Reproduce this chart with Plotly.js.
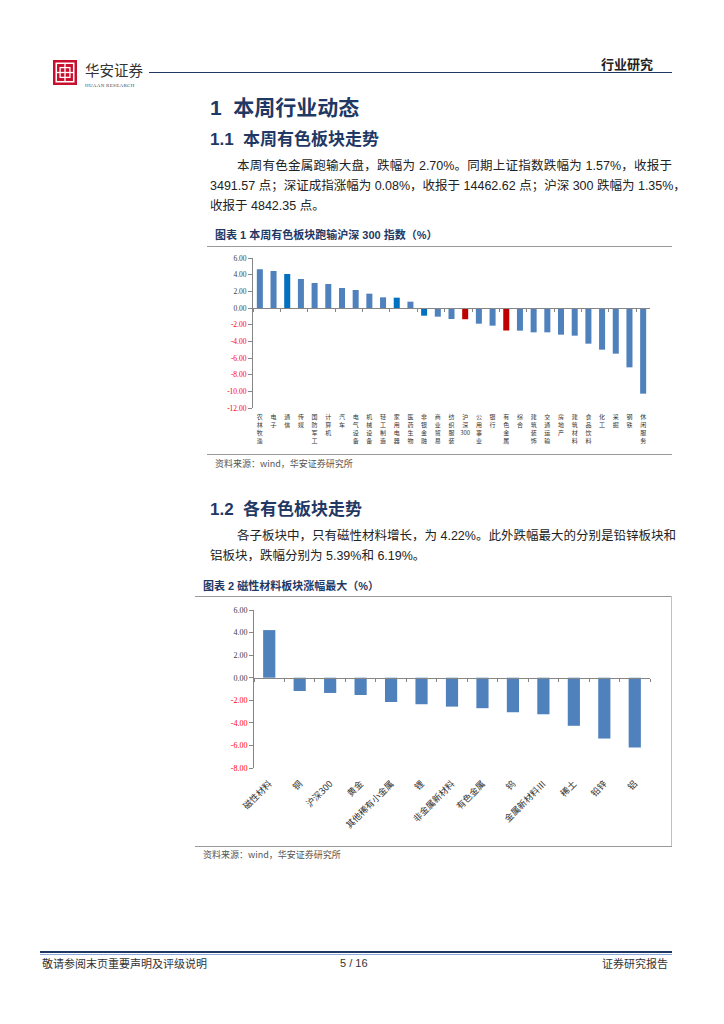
<!DOCTYPE html>
<html><head><meta charset="utf-8">
<script src="https://cdn.plot.ly/plotly-3.0.1.min.js"></script>
<style>
html,body{margin:0;padding:0;background:#fff;}
#page{position:relative;width:724px;height:1024px;overflow:hidden;background:#fff;font-family:"Liberation Sans","Noto Sans CJK SC",sans-serif;}
.a{position:absolute;white-space:nowrap;line-height:1;}
.h{color:#1F3864;font-weight:bold;}
.p{font-size:12.5px;color:#222;text-align:justify;text-align-last:justify;}
.pl{font-size:12.5px;color:#222;}
.rule{position:absolute;height:1px;background:#9a9a9a;}
.src{font-size:9px;color:#555;font-family:"Noto Sans CJK SC","Liberation Serif",serif;}
</style></head><body><div id="page">

<!-- header -->
<svg class="a" style="left:53px;top:60px" width="24" height="25" viewBox="0 0 22 23" preserveAspectRatio="none">
 <rect x="0" y="0" width="22" height="23" fill="#C8102E"/>
 <rect x="3" y="3" width="16" height="17" fill="none" stroke="#fff" stroke-width="1.4"/>
 <rect x="6.5" y="7" width="9" height="9" fill="none" stroke="#fff" stroke-width="1.2"/>
 <line x1="11" y1="3" x2="11" y2="20" stroke="#fff" stroke-width="1.2"/>
 <line x1="3" y1="11.5" x2="19" y2="11.5" stroke="#fff" stroke-width="1.2"/>
</svg>
<div class="a" style="left:85px;top:63px;font-size:14.5px;color:#333;font-family:'Noto Sans CJK SC';">华安证券</div>
<div class="a" style="left:85px;top:83px;font-size:5px;color:#444;font-family:'Liberation Serif';letter-spacing:0.3px;">HUAAN RESEARCH</div>
<div class="a" style="left:149px;top:72px;width:523px;height:1px;background:#1F3864;"></div>
<div class="a" style="left:601px;top:57px;font-size:13px;font-weight:bold;color:#222;font-family:'Noto Sans CJK SC';">行业研究</div>

<!-- section 1 -->
<div class="a h" style="left:210px;top:97px;font-size:21px;">1&nbsp;&nbsp;本周行业动态</div>
<div class="a h" style="left:210px;top:131px;font-size:17px;">1.1&nbsp;&nbsp;本周有色板块走势</div>
<div class="a p" style="left:237px;top:160px;width:435px;">本周有色金属跑输大盘，跌幅为 2.70%。同期上证指数跌幅为 1.57%，收报于</div>
<div class="a p" style="left:210px;top:180px;width:462px;">3491.57 点；深证成指涨幅为 0.08%，收报于 14462.62 点；沪深 300 跌幅为 1.35%，</div>
<div class="a pl" style="left:210px;top:200px;">收报于 4842.35 点。</div>

<div class="a h" style="left:215px;top:230px;font-size:11px;">图表 1 本周有色板块跑输沪深 300 指数（%）</div>
<div class="rule" style="left:207px;top:246px;width:465px;"></div>
<div id="chart1" class="a" style="left:200px;top:248px;width:480px;height:210px;"></div>
<div class="rule" style="left:207px;top:454px;width:465px;"></div>
<div class="a src" style="left:215px;top:459px;">资料来源：wind，华安证券研究所</div>

<!-- section 1.2 -->
<div class="a h" style="left:210px;top:501px;font-size:17px;">1.2&nbsp;&nbsp;各有色板块走势</div>
<div class="a p" style="left:237px;top:530px;width:435px;">各子板块中，只有磁性材料增长，为 4.22%。此外跌幅最大的分别是铅锌板块和</div>
<div class="a pl" style="left:210px;top:550px;">铝板块，跌幅分别为 5.39%和 6.19%。</div>

<div class="a h" style="left:203px;top:581px;font-size:11px;">图表 2 磁性材料板块涨幅最大（%）</div>
<div class="rule" style="left:195px;top:596px;width:477px;"></div>
<div class="a" style="left:671px;top:596px;width:1px;height:250px;background:#c0c0c0;"></div>
<div id="chart2" class="a" style="left:195px;top:598px;width:477px;height:250px;"></div>
<div class="rule" style="left:195px;top:846px;width:477px;"></div>
<div class="a src" style="left:203px;top:850px;">资料来源：wind，华安证券研究所</div>

<!-- footer -->
<div class="a" style="left:40px;top:951px;width:632px;height:2px;background:#1F3864;"></div>
<div class="a" style="left:40px;top:954px;width:632px;height:1px;background:#8EA9DB;"></div>
<div class="a" style="left:42px;top:958px;font-size:11px;color:#333;font-family:'Noto Sans CJK SC';">敬请参阅末页重要声明及评级说明</div>
<div class="a" style="left:340px;top:958px;font-size:11px;color:#333;font-family:'Liberation Sans';">5 / 16</div>
<div class="a" style="left:602px;top:958px;font-size:11px;color:#333;font-family:'Noto Sans CJK SC';">证券研究报告</div>
</div>

<script>
// ---- data: chart 1 (weekly change by industry, %) ----
const industries = ["农林牧渔","电子","通信","传媒","国防军工","计算机","汽车","电气设备","机械设备","轻工制造","家用电器","医药生物","非银金融","商业贸易","纺织服装","沪深300","公用事业","银行","有色金属","综合","建筑装饰","交通运输","房地产","建筑材料","食品饮料","化工","采掘","钢铁","休闲服务"];
const industryChange = [4.65,4.44,4.08,3.48,3.00,2.88,2.40,2.16,1.72,1.28,1.24,0.76,-0.92,-1.04,-1.32,-1.35,-1.88,-2.12,-2.70,-2.72,-2.92,-2.92,-3.20,-3.32,-4.28,-5.00,-5.48,-7.12,-10.28];
const yTicks1 = [6,4,2,0,-2,-4,-6,-8,-10,-12];

// ---- data: chart 2 (sub-sector change, %) ----
const subSectors = ["磁性材料","铜","沪深300","黄金","其他稀有小金属","锂","非金属新材料","有色金属","钨","金属新材料Ⅲ","稀土","铅锌","铝"];
const subSectorChange = [4.22,-1.18,-1.35,-1.53,-2.15,-2.35,-2.56,-2.70,-3.06,-3.24,-4.26,-5.39,-6.19];
const yTicks2 = [6,4,2,0,-2,-4,-6,-8];

// ---- styles ----
const BLUE = '#4F81BD', DARK = '#0070C0', RED = '#C00000';
const redSet = ['沪深300','有色金属'];
const darkSet = ['通信','家用电器','非银金融'];
const AX = '#868686';

function tickText(vals){
  return vals.map(v => v < 0 ? '<span style="color:#FF0000">' + v.toFixed(2) + '</span>' : v.toFixed(2));
}

function drawChart(id, cats, vals, colors, yt, o){
  const n = cats.length;
  const yr = [yt[yt.length-1], yt[0]];
  const zeroFrac = (0 - yr[0]) / (yr[1] - yr[0]);
  const traces = [
    {type:'bar', x:cats, y:vals, marker:{color:colors}, hoverinfo:'skip', showlegend:false},
    {type:'scatter', mode:'none', x:cats, y:cats.map(()=>null), xaxis:'x2', yaxis:'y', hoverinfo:'skip', showlegend:false}
  ];
  const layout = {
    width:o.w, height:o.h, margin:o.m,
    paper_bgcolor:'rgba(0,0,0,0)', plot_bgcolor:'rgba(0,0,0,0)',
    bargap:o.gap, showlegend:false,
    xaxis:{type:'category', range:[-0.5,n-0.5], showline:false, showgrid:false, zeroline:false,
      ticks:'outside', ticklen:o.lblPad, tickcolor:'rgba(0,0,0,0)', tickangle:o.angle,
      tickvals:cats, ticktext:o.labels, tickfont:{family:'Noto Sans CJK SC', size:o.xfs, color:'#333'}, automargin:false},
    xaxis2:{type:'category', overlaying:'x', anchor:'free', position:zeroFrac, range:[-0.5,n-0.5],
      showline:true, linecolor:AX, linewidth:1, ticks:'outside', tickson:'boundaries', ticklen:3, tickcolor:AX,
      showticklabels:false, showgrid:false, zeroline:false},
    yaxis:{range:yr, tickvals:yt, ticktext:tickText(yt), showline:true, linecolor:AX, linewidth:1,
      ticks:'outside', ticklen:4, tickcolor:AX, showgrid:false, zeroline:false,
      tickfont:{family:'Liberation Serif', size:o.yfs, color:'#404040'}, automargin:false}
  };
  Plotly.newPlot(id, traces, layout, {staticPlot:true, displayModeBar:false});
}

const colors1 = industries.map(c => redSet.includes(c) ? RED : (darkSet.includes(c) ? DARK : BLUE));
const labels1 = industries.map(c => (c.match(/\d+|./g)).join('<br>'));
drawChart('chart1', industries, industryChange, colors1, yTicks1,
  {w:480, h:210, m:{l:53,r:30,t:10,b:50}, gap:0.56, labels:labels1, angle:0, xfs:6, yfs:7.5, lblPad:3});

const colors2 = subSectors.map(() => BLUE);
drawChart('chart2', subSectors, subSectorChange, colors2, yTicks2,
  {w:477, h:250, m:{l:59,r:22,t:12,b:80}, gap:0.6, labels:subSectors, angle:-45, xfs:9, yfs:8, lblPad:6});
</script>
</body></html>
